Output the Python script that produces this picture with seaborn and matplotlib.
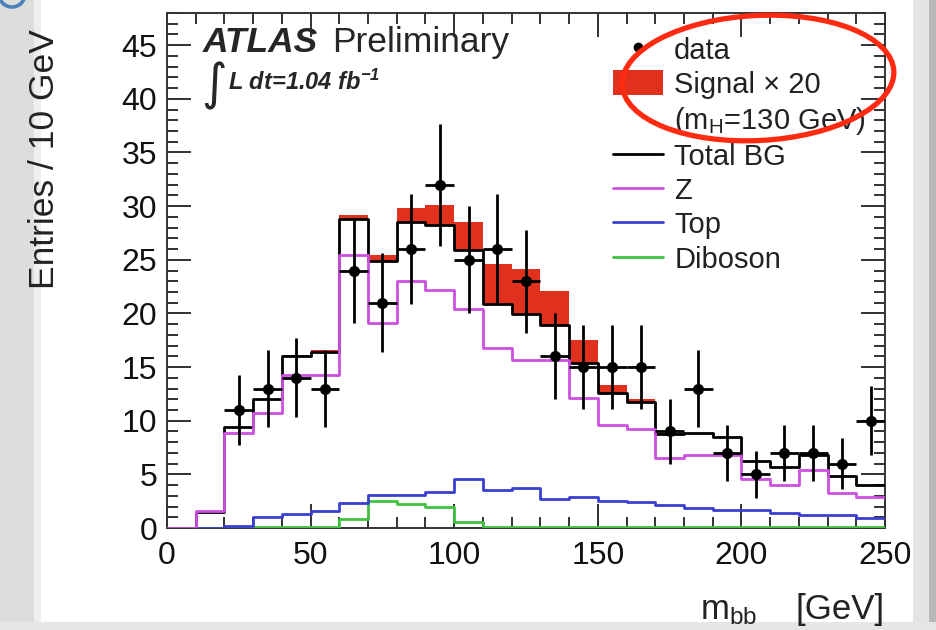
import numpy as np
import pandas as pd
import matplotlib
matplotlib.use("Agg")
import matplotlib.pyplot as plt
from matplotlib.patches import Ellipse, Rectangle, Patch
from matplotlib.lines import Line2D
from matplotlib.ticker import MultipleLocator
import seaborn as sns

# ---------------- data (10 GeV bins, 0..250 GeV) ----------------
bin_edges = [0, 10, 20, 30, 40, 50, 60, 70, 80, 90, 100, 110, 120, 130, 140,
             150, 160, 170, 180, 190, 200, 210, 220, 230, 240, 250]
bin_centers = [5, 15, 25, 35, 45, 55, 65, 75, 85, 95, 105, 115, 125, 135, 145,
               155, 165, 175, 185, 195, 205, 215, 225, 235, 245]

total_bg = [0.0, 1.5, 9.4, 12.0, 16.0, 16.4, 28.8, 24.9, 28.5, 28.2, 25.9, 20.9, 19.9,
            18.9, 15.4, 12.6, 11.7, 8.8, 8.9, 8.5, 6.2, 5.7, 6.8, 4.8, 4.0]
z_bg = [0.0, 1.6, 8.9, 10.7, 14.3, 14.3, 25.4, 19.1, 23.0, 22.2, 20.4, 16.8, 15.7,
        15.7, 12.1, 9.6, 9.2, 6.5, 6.8, 6.8, 4.6, 4.0, 5.45, 3.3, 2.9]
top_bg = [0.0, 0.0, 0.15, 1.0, 1.3, 1.6, 2.3, 3.1, 3.1, 3.4, 4.6, 3.55, 3.7,
          2.7, 2.9, 2.55, 2.4, 2.1, 1.85, 1.7, 1.7, 1.4, 1.25, 1.25, 0.95]
diboson_bg = [0.0, 0.0, 0.05, 0.05, 0.05, 0.05, 0.85, 2.55, 2.25, 2.0, 0.6, 0.1, 0.05,
              0.05, 0.05, 0.05, 0.05, 0.05, 0.05, 0.05, 0.05, 0.05, 0.05, 0.05, 0.05]
signal_x20 = [0.0, 0.0, 0.0, 0.0, 0.1, 0.2, 0.35, 0.5, 1.3, 1.9, 2.6, 3.7, 4.2,
              3.2, 2.1, 0.7, 0.3, 0.1, 0.0, 0.0, 0.0, 0.0, 0.0, 0.0, 0.0]

data_x = [25, 35, 45, 55, 65, 75, 85, 95, 105, 115, 125, 135, 145, 155, 165,
          175, 185, 195, 205, 215, 225, 235, 245]
data_y = [11, 13, 14, 13, 24, 21, 26, 32, 25, 26, 23, 16, 15, 15, 15,
          9, 13, 7, 5, 7, 7, 6, 10]
data_err = [3.3, 3.6, 3.7, 3.6, 4.9, 4.6, 5.1, 5.7, 5.0, 5.1, 4.8, 4.0, 3.9, 3.9, 3.9,
            3.0, 3.6, 2.6, 2.2, 2.6, 2.6, 2.4, 3.2]

y_ticks = [0, 5, 10, 15, 20, 25, 30, 35, 40, 45]
x_ticks = [0, 50, 100, 150, 200, 250]

# ---------------- style ----------------
sns.set_theme(style="white")
FONT = ["Liberation Sans", "DejaVu Sans"]
plt.rcParams["font.family"] = FONT
plt.rcParams["mathtext.default"] = "regular"

C_Z = "#cc4fe0"
C_TOP = "#3a3fd0"
C_DIB = "#3fc23f"
C_SIG = "#e0301e"

fig = plt.figure(figsize=(9.36, 6.3), dpi=100)
fig.patch.set_facecolor("white")

# slide background strips
fig.patches.append(Rectangle((0, 0), 0.036, 1, transform=fig.transFigure,
                             facecolor="#dcdedb", edgecolor="none", zorder=-10))
fig.patches.append(Rectangle((0.036, 0), 0.008, 1, transform=fig.transFigure,
                             facecolor="#eeefed", edgecolor="none", zorder=-10))
fig.patches.append(Rectangle((0.975, 0), 0.025, 1, transform=fig.transFigure,
                             facecolor="#e4e4e4", edgecolor="none", zorder=-10))
fig.patches.append(Rectangle((0.992, 0), 0.008, 1, transform=fig.transFigure,
                             facecolor="#b8b8b8", edgecolor="none", zorder=-10))
fig.patches.append(Rectangle((0, 0), 1, 0.013, transform=fig.transFigure,
                             facecolor="#e6e6e6", edgecolor="none", zorder=-10))

# fragment of a blue slide letter peeking in at the top-left corner (clipped inset)
corner = fig.add_axes([0, 1 - 10 / 630, 30 / 936, 10 / 630])
corner.set_xlim(0, 30)
corner.set_ylim(0, 10)
corner.axis("off")
corner.patch.set_alpha(0)
corner.add_patch(Ellipse((12, 16), 26, 26, fill=False, edgecolor="#4a82b8",
                         linewidth=2.6, clip_on=True))

ax = fig.add_axes([167 / 936, 102 / 630, 718 / 936, 515 / 630])
ax.set_facecolor("white")

# signal band stacked on total background
ax.bar(bin_centers, signal_x20, width=10, bottom=total_bg, color=C_SIG,
       linewidth=0, zorder=2)

df = pd.DataFrame({"x": bin_centers, "total": total_bg, "z": z_bg,
                   "top": top_bg, "dib": diboson_bg})
lw = 2.0
for col, color, zo in [("dib", C_DIB, 3), ("top", C_TOP, 3.1), ("total", "black", 3.2), ("z", C_Z, 3.3)]:
    sns.histplot(data=df, x="x", weights=col, bins=bin_edges, element="step",
                 fill=False, color=color, linewidth=lw, ax=ax, zorder=zo)

ax.errorbar(data_x, data_y, yerr=data_err, xerr=5, fmt="o", color="black",
            markersize=7, elinewidth=2.0, capsize=0, zorder=6)

ax.set_xlim(0, 250)
ax.set_ylim(0, 48)
ax.set_xlabel("")
ax.set_ylabel("")
ax.set_xticks(x_ticks)
ax.set_yticks(y_ticks)
ax.xaxis.set_minor_locator(MultipleLocator(10))
ax.yaxis.set_minor_locator(MultipleLocator(1))
ax.tick_params(which="both", direction="in", bottom=True, left=True, top=True,
               right=True, colors="#222222", width=1.3)
ax.tick_params(which="major", length=17, labelsize=23, pad=7)
ax.tick_params(which="minor", length=8)
ax.tick_params(axis="x", which="major", pad=9)
for s in ax.spines.values():
    s.set_linewidth(1.4)
    s.set_color("#333333")
for lab in ax.get_xticklabels() + ax.get_yticklabels():
    lab.set_color("#111111")

# texts
ax.text(0.050, 0.924, "ATLAS", transform=ax.transAxes, fontsize=25.5,
        fontweight="bold", fontstyle="italic", ha="left", va="baseline")
ax.text(0.2298, 0.924, "Preliminary", transform=ax.transAxes, fontsize=25.5,
        ha="left", va="baseline")
ax.text(0.048, 0.832, r"$\int$", transform=ax.transAxes, fontsize=25,
        ha="left", va="baseline", family="DejaVu Sans")
ax.text(0.085, 0.85, "L dt=1.04 fb$^{-1}$", transform=ax.transAxes, fontsize=17,
        fontweight="bold", fontstyle="italic", ha="left", va="baseline")

fig.text(0.048, 0.953, "Entries / 10 GeV", rotation=90, ha="center", va="top",
         fontsize=25.5, color="#222222")
fig.text(700 / 936, 0.0175, "m$_{bb}$", ha="left", va="baseline",
         fontsize=25, color="#222222")
fig.text(885 / 936, 0.0175, "[GeV]", ha="right", va="baseline",
         fontsize=25, color="#222222")

handles = [
    Line2D([], [], marker="o", ls="", color="black", markersize=6),
    Patch(facecolor=C_SIG, edgecolor="none"),
    Patch(facecolor="none", edgecolor="none"),
    Line2D([], [], color="black", lw=lw),
    Line2D([], [], color=C_Z, lw=lw),
    Line2D([], [], color=C_TOP, lw=lw),
    Line2D([], [], color=C_DIB, lw=lw),
]
labels = ["data", "Signal \u00d7 20", "(m$_{H}$=130 GeV)", "Total BG", "Z", "Top", "Diboson"]
leg = ax.legend(handles, labels, loc="upper left", bbox_to_anchor=(0.621, 0.955),
                frameon=False, fontsize=21, handlelength=1.72, handleheight=0.93,
                handletextpad=0.38, labelspacing=0.2, borderpad=0, borderaxespad=0)
for t in leg.get_texts():
    t.set_color("#222222")

# hand-drawn red ellipse annotation
fig.patches.append(Ellipse((7.58, (630 - 78) / 100), 2.72, 1.25, angle=3,
                           transform=fig.dpi_scale_trans, fill=False,
                           edgecolor="#ff2a12", linewidth=3.8, zorder=20))

fig.savefig("out.png", dpi=100)
